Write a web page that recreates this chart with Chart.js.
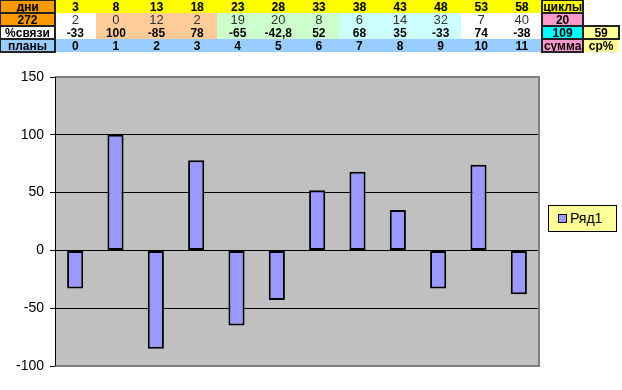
<!DOCTYPE html>
<html>
<head>
<meta charset="utf-8">
<script src="https://cdn.jsdelivr.net/npm/chart.js@4/dist/chart.umd.min.js"></script>
<style>
  body { margin: 0; background: #fff; font-family: Arial, "Liberation Sans", sans-serif; }
  #wrap { position: relative; width: 622px; height: 390px; overflow: hidden; }
  #chart { position: absolute; left: 0; top: 0; }
  #tbl { position: absolute; left: 0; top: 0; border-collapse: collapse; table-layout: fixed; font-size: 12px; }
  #tbl td { height: 13px; padding: 0; text-align: center; line-height: 12px; font-weight: bold; color: #000; overflow: hidden; white-space: nowrap; }
  #tbl td.b { outline: 2px solid #222; outline-offset: -1px; }
  #tbl td.n { font-weight: normal; color: #333; font-size: 13px; }
  #legend { position: absolute; left: 548px; top: 205px; width: 67px; height: 25px; background: #ffff99; border: 1px solid #000;
            font-size: 14px; line-height: 25px; color: #000; }
  #legend span.m { display: inline-block; width: 7px; height: 7px; background: #9999ff; border: 1px solid #000; margin: 0 3px 0 9px; }
</style>
</head>
<body>
<div id="wrap">
  <canvas id="chart" width="622" height="390"></canvas>
  <table id="tbl"></table>
  <div id="legend"><span class="m"></span>Ряд1</div>
</div>
<script>
// строки таблицы над графиком
const days = ['3', '8', '13', '18', '23', '28', '33', '38', '43', '48', '53', '58'];
const counts = ['2', '0', '12', '2', '19', '20', '8', '6', '14', '32', '7', '40'];
const linkPct = ['-33', '100', '-85', '78', '-65', '-42,8', '52', '68', '35', '-33', '74', '-38'];
const plans = ['0', '1', '2', '3', '4', '5', '6', '7', '8', '9', '10', '11'];

// данные для столбцов
const seriesName = 'Ряд1';
const values = [-33, 100, -85, 78, -65, -42.8, 52, 68, 35, -33, 74, -38];
const yTicks = [-100, -50, 0, 50, 100, 150];

// цвета фона по группам столбцов
const groupBg = ['#ffffff', '#ffcc99', '#ffcc99', '#ffcc99', '#ccffcc', '#ccffcc', '#ccffcc',
                 '#ccffff', '#ccffff', '#ccffff', '#ffffff', '#ffffff'];

function buildTable() {
    const tbl = document.getElementById('tbl');
    const colW = [55].concat(new Array(12).fill(40.6)).concat([41, 36]);
    let html = '<colgroup>' + colW.map(w => `<col style="width:${w}px">`).join('') + '</colgroup>';

    html += '<tr><td class="b" style="background:#ff9900">дни</td>';
    days.forEach(d => html += `<td style="background:#ffff00">${d}</td>`);
    html += '<td class="b" style="background:#ffff00">циклы</td><td></td></tr>';

    html += '<tr><td class="b" style="background:#ff9900">272</td>';
    counts.forEach((c, i) => html += `<td class="n" style="background:${groupBg[i]}">${c}</td>`);
    html += '<td class="b" style="background:#ff99cc">20</td><td></td></tr>';

    html += '<tr><td class="b" style="background:#ffffff">%связи</td>';
    linkPct.forEach((v, i) => html += `<td style="background:${groupBg[i]}">${v}</td>`);
    html += '<td class="b" style="background:#00ffff">109</td><td class="b" style="background:#ffff99">59</td></tr>';

    html += '<tr><td class="b" style="background:#99ccff">планы</td>';
    plans.forEach(p => html += `<td style="background:#99ccff">${p}</td>`);
    html += '<td class="b" style="background:#ff99cc">сумма</td><td style="background:#ffff99">ср%</td></tr>';

    tbl.innerHTML = html;
}

// серый фон области построения и рамка
const plotArea = {
    id: 'plotArea',
    beforeDraw(chart) {
        const { ctx, chartArea: a } = chart;
        ctx.save();
        ctx.fillStyle = '#c0c0c0';
        ctx.fillRect(a.left, a.top, a.right - a.left, a.bottom - a.top);
        ctx.restore();
    },
    afterDraw(chart) {
        const { ctx, chartArea: a } = chart;
        ctx.save();
        ctx.strokeStyle = '#808080';
        ctx.lineWidth = 2;
        ctx.beginPath();
        ctx.moveTo(a.left, a.top);
        ctx.lineTo(a.right, a.top);
        ctx.lineTo(a.right, a.bottom);
        ctx.lineTo(a.left, a.bottom);
        ctx.stroke();
        ctx.strokeStyle = '#000';
        ctx.lineWidth = 1;
        ctx.beginPath();
        ctx.moveTo(a.left + 0.5, a.top);
        ctx.lineTo(a.left + 0.5, a.bottom);
        ctx.stroke();
        ctx.restore();
    }
};

buildTable();

new Chart(document.getElementById('chart'), {
    type: 'bar',
    data: {
        labels: plans,
        datasets: [{
            label: seriesName,
            data: values,
            backgroundColor: '#9999ff',
            borderColor: '#000000',
            borderWidth: 2,
            borderSkipped: false,
            barPercentage: 0.4,
            categoryPercentage: 1.0
        }]
    },
    options: {
        responsive: false,
        animation: false,
        devicePixelRatio: 1,
        layout: { padding: { top: 77, bottom: 24, left: 0, right: 83 } },
        plugins: {
            legend: { display: false },
            tooltip: { enabled: false }
        },
        scales: {
            x: { display: false },
            y: {
                min: -100,
                max: 150,
                afterBuildTicks: s => { s.ticks = yTicks.map(v => ({ value: v })); },
                afterFit: s => { s.width = 55; },
                grid: { color: '#000', lineWidth: 1, tickLength: 5, drawTicks: true },
                border: { display: true, color: '#000' },
                ticks: { color: '#000', font: { family: 'Arial', size: 14 }, padding: 6 }
            }
        }
    },
    plugins: [plotArea]
});
</script>
</body>
</html>
